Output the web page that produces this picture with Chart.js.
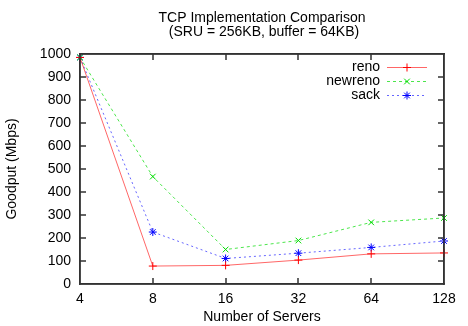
<!DOCTYPE html>
<html>
<head>
<meta charset="utf-8">
<script src="https://cdn.jsdelivr.net/npm/chart.js@4.4.1/dist/chart.umd.min.js"></script>
<style>
  html, body { margin: 0; padding: 0; background: #fff; }
</style>
</head>
<body>
<canvas id="myChart" width="468" height="326"></canvas>
<script>
// données
const servers = ["4", "8", "16", "32", "64", "128"];
const reno = [985, 78, 81, 104, 131, 135];
const newreno = [985, 467, 150, 189, 268, 287];
const sack = [985, 226, 111, 134, 159, 187];
const yTicks = [0, 100, 200, 300, 400, 500, 600, 700, 800, 900, 1000];

const FONT = "'Liberation Sans', Arial, sans-serif";
const FRAME = '#333333';

Chart.defaults.font.family = FONT;
Chart.defaults.font.size = 14;
Chart.defaults.color = '#000';

// cadre + graduations vers l'intérieur (style gnuplot)
const framePlugin = {
    id: 'gnuframe',
    afterDraw(chart) {
        const c = chart.ctx;
        const a = chart.chartArea;
        const L = Math.round(a.left), R = Math.round(a.right);
        const T = Math.round(a.top), B = Math.round(a.bottom);
        c.save();
        c.strokeStyle = FRAME;
        c.lineWidth = 1.5;
        c.setLineDash([]);
        c.beginPath();
        c.moveTo(L, T); c.lineTo(R, T); c.lineTo(R, B); c.lineTo(L, B); c.closePath();
        yTicks.forEach(v => {
            const y = Math.round(chart.scales.y.getPixelForValue(v));
            c.moveTo(L, y); c.lineTo(L + 6, y);
            c.moveTo(R, y); c.lineTo(R - 6, y);
        });
        servers.forEach((s, i) => {
            const x = Math.round(chart.scales.x.getPixelForValue(i));
            c.moveTo(x, B); c.lineTo(x, B - 6);
            c.moveTo(x, T); c.lineTo(x, T + 6);
        });
        c.stroke();
        c.restore();
    }
};

// titre et légende
const textPlugin = {
    id: 'gnutext',
    afterDraw(chart) {
        const c = chart.ctx;
        const a = chart.chartArea;
        c.save();
        c.fillStyle = '#000';
        c.font = '14px ' + FONT;
        c.textAlign = 'center';
        c.textBaseline = 'middle';
        const cx = (a.left + a.right) / 2;
        c.fillText('TCP Implementation Comparison', cx, 18);
        c.fillText('(SRU = 256KB, buffer = 64KB)', cx + 2, 32);

        const rows = [67, 81, 95];
        c.textAlign = 'right';
        chart.data.datasets.forEach((ds, i) => {
            const y = rows[i];
            c.fillStyle = '#000';
            c.fillText(ds.label, 380, y);
            c.save();
            c.strokeStyle = ds.borderColor;
            c.lineWidth = 1;
            c.setLineDash(ds.borderDash || []);
            c.beginPath();
            c.moveTo(387, y + 0.5);
            c.lineTo(427, y + 0.5);
            c.stroke();
            c.setLineDash([]);
            c.strokeStyle = ds.pointBorderColor;
            c.fillStyle = ds.pointBorderColor;
            Chart.helpers.drawPoint(c, {
                pointStyle: ds.pointStyle, radius: ds.pointRadius,
                borderWidth: 1, rotation: 0
            }, 407, y + 0.5);
            c.restore();
        });
        c.restore();
    }
};

const data = {
    labels: servers,
    datasets: [{
        label: "reno",
        data: reno,
        borderColor: "rgba(255,0,0,0.6)",
        pointBorderColor: "#ff0000",
        pointStyle: 'cross'
    }, {
        label: "newreno",
        data: newreno,
        borderColor: "rgba(0,220,0,0.7)",
        pointBorderColor: "#00dd00",
        borderDash: [3, 3],
        pointStyle: 'crossRot'
    }, {
        label: "sack",
        data: sack,
        borderColor: "rgba(0,0,255,0.6)",
        pointBorderColor: "#0000ff",
        borderDash: [2, 3],
        pointStyle: 'star'
    }]
};
data.datasets.forEach(ds => {
    ds.borderWidth = 1;
    ds.pointRadius = 4;
    ds.pointBackgroundColor = ds.pointBorderColor;
    ds.pointBorderWidth = 1;
    ds.tension = 0;
    ds.fill = false;
});

// axes sans grille, seulement la bordure
const frameGrid = { display: true, drawOnChartArea: false, drawTicks: false };
const frameBorder = { display: true, color: FRAME, width: 1.5 };

const ctx = document.getElementById('myChart').getContext('2d');
const myChart = new Chart(ctx, {
    type: 'line',
    data: data,
    plugins: [framePlugin, textPlugin],
    options: {
        responsive: false,
        animation: false,
        layout: { padding: { top: 54, right: 24, left: 0, bottom: 0 } },
        plugins: {
            legend: { display: false },
            title: { display: false },
            tooltip: { enabled: false }
        },
        scales: {
            x: {
                offset: false,
                grid: frameGrid,
                border: frameBorder,
                ticks: { padding: 7, maxRotation: 0, autoSkip: false },
                title: {
                    display: true,
                    text: 'Number of Servers',
                    padding: { top: 2, bottom: 0 }
                },
                afterFit(scale) { scale.height = 42; }
            },
            x2: {
                type: 'category',
                axis: 'x',
                position: 'top',
                labels: servers,
                offset: false,
                grid: frameGrid,
                border: frameBorder,
                ticks: { display: false },
                afterFit(scale) { scale.height = 0; }
            },
            y: {
                min: 0,
                max: 1000,
                grid: frameGrid,
                border: frameBorder,
                afterBuildTicks(scale) {
                    scale.ticks = yTicks.map(v => ({ value: v }));
                },
                ticks: {
                    padding: 9,
                    callback: v => String(v)
                },
                title: {
                    display: true,
                    text: 'Goodput (Mbps)',
                    padding: { top: 4, bottom: 0 }
                },
                afterFit(scale) { scale.width = 80; }
            },
            y2: {
                type: 'linear',
                axis: 'y',
                position: 'right',
                min: 0,
                max: 1000,
                grid: frameGrid,
                border: frameBorder,
                ticks: { display: false },
                afterFit(scale) { scale.width = 0; }
            }
        }
    }
});
</script>
</body>
</html>
